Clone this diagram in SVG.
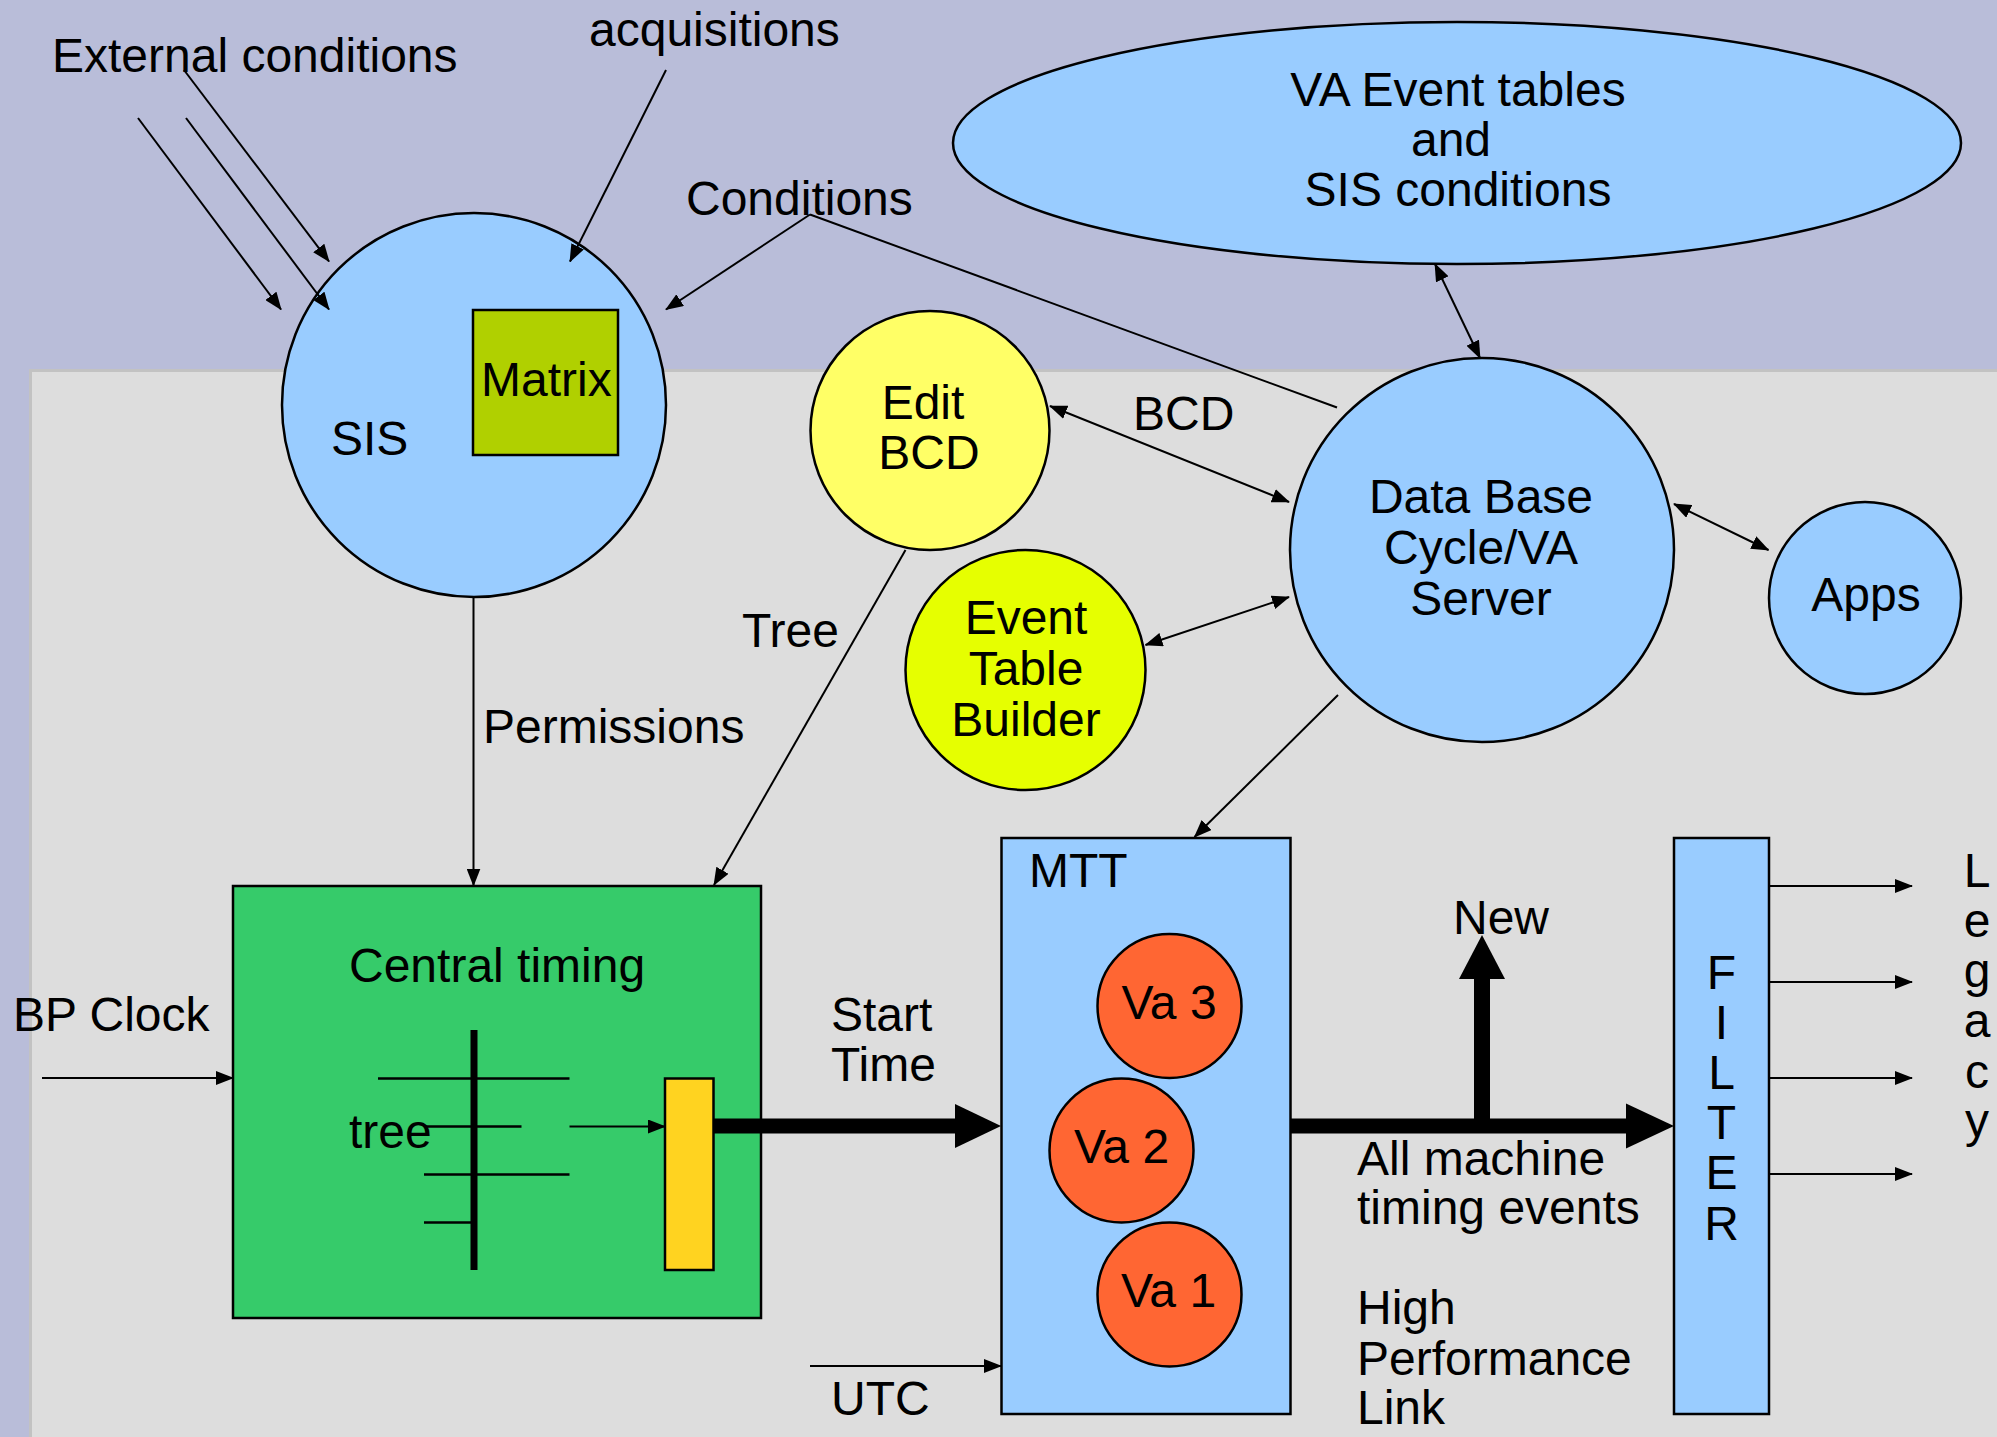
<svg xmlns="http://www.w3.org/2000/svg" width="1997" height="1437" viewBox="0 0 1997 1437">
<style>
text { font-family: "Liberation Sans", Arial, sans-serif; font-size: 48px; fill: #000; }
.c { text-anchor: middle; }
.shape { stroke: #000; stroke-width: 2.5; }
.ln { stroke: #000; stroke-width: 2; fill: none; }
.thick { stroke: #000; fill: none; }
.blue { fill: #99ccff; }
</style>
<defs>
<marker id="ah" markerUnits="userSpaceOnUse" markerWidth="18" markerHeight="14" refX="17" refY="7" orient="auto-start-reverse">
<path d="M0,0 L18,7 L0,14 z" fill="#000"/>
</marker>
</defs>

<rect x="0" y="0" width="1997" height="1437" fill="#b9bdd9"/>
<rect x="30.5" y="370.5" width="1980" height="1080" fill="#dddddd" stroke="#c2c2c2" stroke-width="3"/>

<g id="va-event-tables">
<ellipse class="shape blue" cx="1457" cy="143" rx="504" ry="121"/>
<text class="c" x="1458" y="106">VA Event tables</text>
<text class="c" x="1451" y="156">and</text>
<text class="c" x="1458" y="206">SIS conditions</text>
</g>

<g id="sis">
<circle class="shape blue" cx="474" cy="405" r="192"/>
<text x="331" y="455">SIS</text>
</g>

<g id="matrix">
<rect class="shape" x="473" y="310" width="145" height="145" fill="#b0d000"/>
<text x="481" y="396">Matrix</text>
</g>

<g id="edit-bcd">
<circle class="shape" cx="930" cy="430.5" r="119.5" fill="#ffff66"/>
<text class="c" x="923" y="419">Edit</text>
<text class="c" x="929" y="469">BCD</text>
</g>

<g id="event-table-builder">
<circle class="shape" cx="1025.5" cy="670" r="120" fill="#e6ff00"/>
<text class="c" x="1026" y="634">Event</text>
<text class="c" x="1026" y="685">Table</text>
<text class="c" x="1026" y="736">Builder</text>
</g>

<g id="database">
<circle class="shape blue" cx="1482" cy="550" r="192"/>
<text class="c" x="1481" y="513">Data Base</text>
<text class="c" x="1481" y="564">Cycle/VA</text>
<text class="c" x="1481" y="615">Server</text>
</g>

<g id="apps">
<circle class="shape blue" cx="1865" cy="598" r="96"/>
<text class="c" x="1866" y="611">Apps</text>
</g>

<g id="central-timing">
<rect class="shape" x="233" y="886" width="528" height="432" fill="#36cb6a"/>
<text x="349" y="982">Central timing</text>
<g id="tree">
<line x1="474" y1="1030" x2="474" y2="1270" stroke="#000" stroke-width="7"/>
<line x1="378" y1="1078.5" x2="569.5" y2="1078.5" stroke="#000" stroke-width="2.5"/>
<line x1="424" y1="1126.5" x2="521.5" y2="1126.5" stroke="#000" stroke-width="2.5"/>
<line x1="424" y1="1174.5" x2="569.5" y2="1174.5" stroke="#000" stroke-width="2.5"/>
<line x1="424" y1="1222.5" x2="474" y2="1222.5" stroke="#000" stroke-width="2.5"/>
<text x="349" y="1148">tree</text>
<line class="ln" x1="569.5" y1="1126.5" x2="665" y2="1126.5" marker-end="url(#ah)"/>
</g>
<rect class="shape" x="665" y="1078.5" width="48.5" height="191.5" fill="#ffd320"/>
</g>

<g id="mtt">
<rect class="shape blue" x="1001.5" y="838" width="289" height="576"/>
<text x="1029" y="887">MTT</text>
</g>

<g id="va3">
<circle class="shape" cx="1169.5" cy="1006" r="72" fill="#ff6633"/>
<text class="c" x="1169" y="1019">Va 3</text>
</g>
<g id="va2">
<circle class="shape" cx="1121.5" cy="1150.5" r="72" fill="#ff6633"/>
<text class="c" x="1121.5" y="1163">Va 2</text>
</g>
<g id="va1">
<circle class="shape" cx="1169.5" cy="1294.5" r="72" fill="#ff6633"/>
<text class="c" x="1168.5" y="1307">Va 1</text>
</g>

<g id="filter">
<rect class="shape blue" x="1674" y="838" width="95" height="576"/>
<text class="c" x="1721.5" y="989">F</text>
<text class="c" x="1721.5" y="1039">I</text>
<text class="c" x="1721.5" y="1089">L</text>
<text class="c" x="1721.5" y="1139">T</text>
<text class="c" x="1721.5" y="1189">E</text>
<text class="c" x="1721.5" y="1240">R</text>
</g>

<g id="connectors">
<line class="ln" x1="138" y1="118" x2="281" y2="309.5" marker-end="url(#ah)"/>
<line class="ln" x1="186" y1="118" x2="329" y2="309.5" marker-end="url(#ah)"/>
<line class="ln" x1="184" y1="70" x2="329" y2="261.5" marker-end="url(#ah)"/>
<line class="ln" x1="666" y1="70" x2="570" y2="261.5" marker-end="url(#ah)"/>
<line class="ln" x1="810" y1="214.5" x2="666" y2="309.5" marker-end="url(#ah)"/>
<line class="ln" x1="810" y1="214.5" x2="1337" y2="407.5"/>
<line class="ln" x1="1435" y1="264" x2="1480" y2="358" marker-start="url(#ah)" marker-end="url(#ah)"/>
<line class="ln" x1="1050" y1="406" x2="1289" y2="502" marker-start="url(#ah)" marker-end="url(#ah)"/>
<line class="ln" x1="1145.5" y1="645" x2="1289" y2="597" marker-start="url(#ah)" marker-end="url(#ah)"/>
<line class="ln" x1="1674" y1="504" x2="1768.5" y2="550" marker-start="url(#ah)" marker-end="url(#ah)"/>
<line class="ln" x1="1338" y1="695" x2="1194.5" y2="837" marker-end="url(#ah)"/>
<line class="ln" x1="905.5" y1="550" x2="714" y2="885" marker-end="url(#ah)"/>
<line class="ln" x1="473.5" y1="597" x2="473.5" y2="885.5" marker-end="url(#ah)"/>
<line class="ln" x1="42" y1="1078" x2="233" y2="1078" marker-end="url(#ah)"/>
<line class="ln" x1="810" y1="1366" x2="1001" y2="1366" marker-end="url(#ah)"/>
<line class="ln" x1="1769" y1="886" x2="1912" y2="886" marker-end="url(#ah)"/>
<line class="ln" x1="1769" y1="982" x2="1912" y2="982" marker-end="url(#ah)"/>
<line class="ln" x1="1769" y1="1078" x2="1912" y2="1078" marker-end="url(#ah)"/>
<line class="ln" x1="1769" y1="1174" x2="1912" y2="1174" marker-end="url(#ah)"/>
<line class="thick" x1="714" y1="1126" x2="957" y2="1126" stroke-width="15"/>
<polygon points="955,1104 1001,1126 955,1148" fill="#000"/>
<line class="thick" x1="1291" y1="1126" x2="1628" y2="1126" stroke-width="15"/>
<polygon points="1626,1103.5 1674,1126 1626,1148.5" fill="#000"/>
<line class="thick" x1="1482" y1="1133" x2="1482" y2="977" stroke-width="16"/>
<polygon points="1459,979 1482,935 1505,979" fill="#000"/>
</g>

<g id="labels">
<text x="52" y="72">External conditions</text>
<text x="589" y="46">acquisitions</text>
<text x="686" y="215">Conditions</text>
<text x="1133" y="430">BCD</text>
<text x="742" y="647">Tree</text>
<text x="483" y="743">Permissions</text>
<text x="13" y="1031">BP Clock</text>
<text x="831" y="1031">Start</text>
<text x="831" y="1081">Time</text>
<text x="831" y="1415">UTC</text>
<text x="1453" y="934">New</text>
<text x="1357" y="1175">All machine</text>
<text x="1357" y="1224">timing events</text>
<text x="1357" y="1324">High</text>
<text x="1357" y="1375">Performance</text>
<text x="1357" y="1424">Link</text>
<g id="legacy">
<text class="c" x="1977" y="887">L</text>
<text class="c" x="1977" y="937">e</text>
<text class="c" x="1977" y="987">g</text>
<text class="c" x="1977" y="1037">a</text>
<text class="c" x="1977" y="1088">c</text>
<text class="c" x="1977" y="1137">y</text>
</g>
</g>
</svg>
